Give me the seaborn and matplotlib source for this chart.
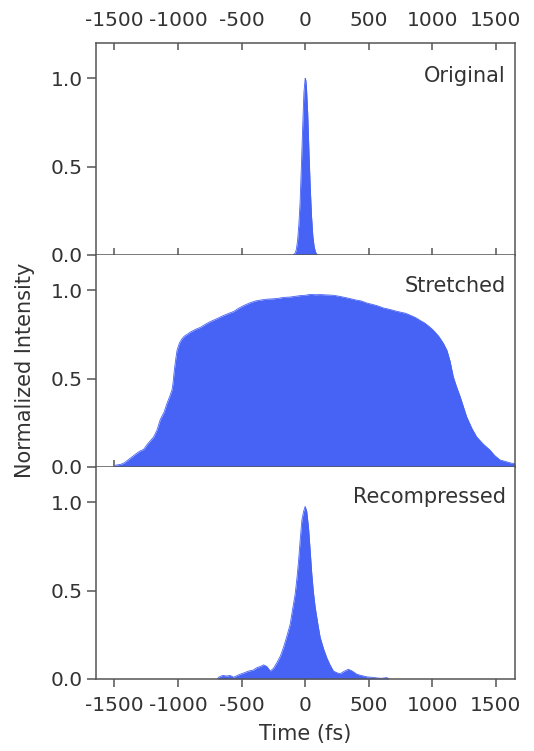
import numpy as np
import pandas as pd
import matplotlib
matplotlib.use("Agg")
import matplotlib.pyplot as plt
import seaborn as sns

# ---------------- data ----------------
orig_t = [-100, -90, -80, -70, -60, -50, -40, -30, -20, -10, 0, 5, 10, 20, 30, 40, 50, 60, 70, 80, 90, 100]
orig_i = [0.0, 0.003, 0.01, 0.03, 0.08, 0.17, 0.30, 0.50, 0.72, 0.92, 1.0, 0.99, 0.95, 0.80, 0.58, 0.38, 0.22, 0.11, 0.05, 0.02, 0.005, 0.0]

str_t = [-1500, -1493, -1450, -1420, -1375, -1330, -1300, -1270, -1240, -1210, -1192, -1165,
         -1139, -1110, -1087, -1065, -1048, -1040, -1029, -1018, -1008, -990, -970, -951,
         -900, -860, -825, -780, -740, -694, -650, -600, -563, -520, -480, -432, -390,
         -350, -301, -250, -210, -170, -120, -80, -40, 0, 39, 80, 120, 170, 222, 270,
         310, 354, 400, 440, 485, 530, 570, 615, 660, 700, 746, 790, 830, 870, 903,
         940, 975, 1008, 1050, 1087, 1115, 1139, 1152, 1165, 1190, 1218, 1245, 1270,
         1310, 1349, 1400, 1453, 1490, 1532, 1580, 1620, 1650]
str_i = [0.0, 0.01, 0.015, 0.025, 0.05, 0.075, 0.09, 0.10, 0.13, 0.155, 0.17, 0.21,
         0.27, 0.31, 0.36, 0.40, 0.435, 0.47, 0.55, 0.61, 0.66, 0.70, 0.725, 0.74,
         0.765, 0.78, 0.79, 0.81, 0.825, 0.84, 0.855, 0.87, 0.88, 0.90, 0.915, 0.93, 0.94,
         0.945, 0.95, 0.952, 0.955, 0.96, 0.962, 0.966, 0.97, 0.972, 0.977, 0.975, 0.976, 0.974, 0.972, 0.966,
         0.96, 0.953, 0.945, 0.94, 0.928, 0.92, 0.912, 0.90, 0.893, 0.885, 0.877, 0.87, 0.858, 0.845, 0.83,
         0.815, 0.795, 0.774, 0.74, 0.70, 0.66, 0.60, 0.555, 0.51, 0.455, 0.40, 0.34, 0.284,
         0.22, 0.17, 0.13, 0.096, 0.065, 0.04, 0.03, 0.022, 0.02]

rec_t = [-690, -681, -650, -616, -590, -563, -540, -511, -480, -445, -410, -380, -350, -327,
         -300, -275, -250, -222, -195, -170, -145, -118, -100, -79, -65, -52, -40, -26, -12,
         0, 12, 26, 40, 52, 65, 79, 100, 118, 145, 170, 195, 222, 250, 275, 310, 340,
         370, 406, 440, 485, 520, 563, 600, 642, 660]
rec_i = [0.0, 0.01, 0.02, 0.017, 0.02, 0.01, 0.018, 0.027, 0.035, 0.045, 0.05, 0.064, 0.072, 0.08,
         0.07, 0.045, 0.06, 0.093, 0.13, 0.18, 0.24, 0.31, 0.39, 0.48, 0.57, 0.67, 0.78, 0.90, 0.95,
         0.977, 0.95, 0.86, 0.72, 0.595, 0.49, 0.405, 0.31, 0.235, 0.17, 0.12, 0.08, 0.045, 0.035, 0.03, 0.045, 0.055,
         0.045, 0.027, 0.02, 0.012, 0.01, 0.006, 0.004, 0.008, 0.0]

panel_labels = ["Original", "Stretched", "Recompressed"]
x_ticks = [-1500, -1000, -500, 0, 500, 1000, 1500]
y_ticks = [0.0, 0.5, 1.0]

# ---------------- style ----------------
sns.set_theme(style="ticks")
plt.rcParams["font.family"] = ["DejaVu Sans"]
plt.rcParams["axes.unicode_minus"] = False
FILL = "#4763F5"
SPINE = "#555555"
TXT = "#333333"
TS = 14.5

fig = plt.figure(figsize=(5.34, 7.51), dpi=100)
left, width = 96 / 534, (515 - 96) / 534
tops = [43, 255, 467]
h = 212
axes = []
for tp in tops:
    b = 1 - (tp + h) / 751
    axes.append(fig.add_axes([left, b, width, h / 751]))

series = [(orig_t, orig_i), (str_t, str_i), (rec_t, rec_i)]
label_y = [0.844, 0.854, 0.858]
for k, (ax, (t, v), lab) in enumerate(zip(axes, series, panel_labels)):
    df = pd.DataFrame({"t": t, "I": v})
    sns.lineplot(data=df, x="t", y="I", ax=ax, color=FILL, linewidth=0.6, zorder=2)
    ax.fill_between(df["t"], 0, df["I"], color=FILL, linewidth=0, zorder=2)
    ax.set_xlim(-1645, 1650)
    ax.set_ylim(0, 1.2)
    ax.set_axisbelow(True)
    ax.set_xticks(x_ticks)
    ax.set_yticks(y_ticks)
    ax.set_yticklabels([f"{y:.1f}" for y in y_ticks])
    ax.set_xlabel("")
    ax.set_ylabel("")
    for s in ax.spines.values():
        s.set_color(SPINE)
        s.set_linewidth(1.1)
        s.set_zorder(3)
    ax.tick_params(axis="y", direction="out", length=6.5, width=1.1, color=SPINE,
                   labelsize=TS, labelcolor=TXT, pad=3)
    ax.text(0.978, label_y[k], lab, transform=ax.transAxes, ha="right", va="center",
            fontsize=15, color=TXT)

# top panel: labels on top, ticks inward top & bottom
a0 = axes[0]
a0.tick_params(axis="x", which="both", top=True, bottom=True, labeltop=True, labelbottom=False,
               direction="in", length=5, width=1.1, color=SPINE, labelsize=TS,
               labelcolor=TXT, pad=9)
# middle panel: inward ticks at bottom, no labels
a1 = axes[1]
a1.spines["top"].set_visible(False)
a1.tick_params(axis="x", top=False, bottom=True, labelbottom=False, direction="in",
               length=5, width=1.1, color=SPINE)
# bottom panel
a2 = axes[2]
a2.spines["top"].set_visible(False)
a2.tick_params(axis="x", top=False, bottom=True, labelbottom=True, direction="out",
               length=6, width=1.1, color=SPINE, labelsize=TS, labelcolor=TXT, pad=6)
a2.set_xlabel("Time (fs)", fontsize=15, color=TXT, labelpad=7)

fig.text(25 / 534, 1 - 370 / 751, "Normalized Intensity", rotation=90, ha="center", va="center",
         fontsize=15, color=TXT)

fig.savefig("out.png", dpi=100, facecolor="white")
